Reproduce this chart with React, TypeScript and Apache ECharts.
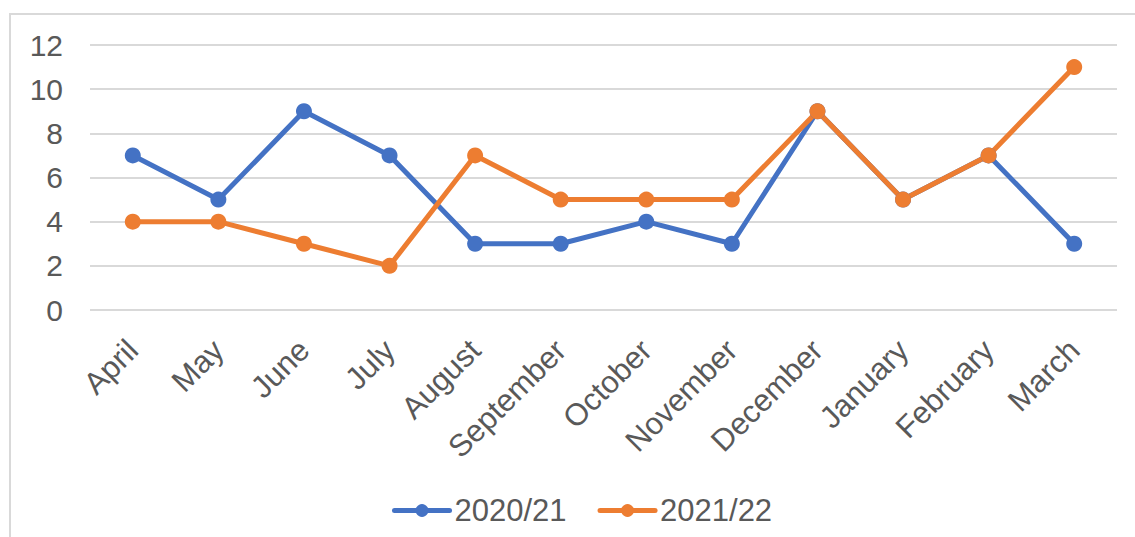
import React, { useEffect, useRef } from "react";
import * as echarts from "echarts";

const months = ["April", "May", "June", "July", "August", "September", "October", "November", "December", "January", "February", "March"];
const series2021 = [7, 5, 9, 7, 3, 3, 4, 3, 9, 5, 7, 3];
const series2122 = [4, 4, 3, 2, 7, 5, 5, 5, 9, 5, 7, 11];
const seriesNames = ["2020/21", "2021/22"];
const colors = ["#4472C4", "#ED7D31"];

export default function App() {
  const ref = useRef<HTMLDivElement>(null);
  useEffect(() => {
    const chart = echarts.init(ref.current!, null, { renderer: "svg" });
    const font = "Liberation Sans, Arial, sans-serif";
    const textColor = "#595959";
    const mk = (name: string, data: number[], color: string) => ({
      name,
      type: "line",
      data,
      symbol: "circle",
      symbolSize: 16,
      itemStyle: { color },
      lineStyle: { color, width: 5 },
    });
    chart.setOption({
      animation: false,
      backgroundColor: "#ffffff",
      color: colors,
      textStyle: { fontFamily: font },
      graphic: [
        {
          type: "rect",
          shape: { x: 10, y: 14, width: 2000, height: 2000 },
          style: { fill: "none", stroke: "#d9d9d9", lineWidth: 2 },
          silent: true,
        },
      ],
      grid: { left: 90, right: 18, top: 45, bottom: 227, containLabel: false },
      legend: {
        bottom: 6,
        left: 387,
        itemWidth: 55,
        itemHeight: 16,
        itemGap: 31,
        itemStyle: { borderWidth: 0 },
        lineStyle: { width: 5, cap: "round" },
        textStyle: { color: textColor, fontSize: 31, fontFamily: font },
        data: seriesNames,
      },
      xAxis: {
        type: "category",
        data: months,
        boundaryGap: true,
        axisLine: { show: false },
        axisTick: { show: false },
        axisLabel: { rotate: 45, color: textColor, fontSize: 31, fontFamily: font, margin: 35, interval: 0 },
      },
      yAxis: {
        type: "value",
        min: 0,
        max: 12,
        interval: 2,
        axisLine: { show: false },
        axisTick: { show: false },
        axisLabel: { color: textColor, fontSize: 30, fontFamily: font, margin: 27 },
        splitLine: { lineStyle: { color: "#d9d9d9", width: 2 } },
      },
      series: [mk(seriesNames[0], series2021, colors[0]), mk(seriesNames[1], series2122, colors[1])],
    });
    return () => chart.dispose();
  }, []);
  return <div ref={ref} style={{ position: "absolute", left: 0, top: 0, width: 1135, height: 537 }} />;
}
